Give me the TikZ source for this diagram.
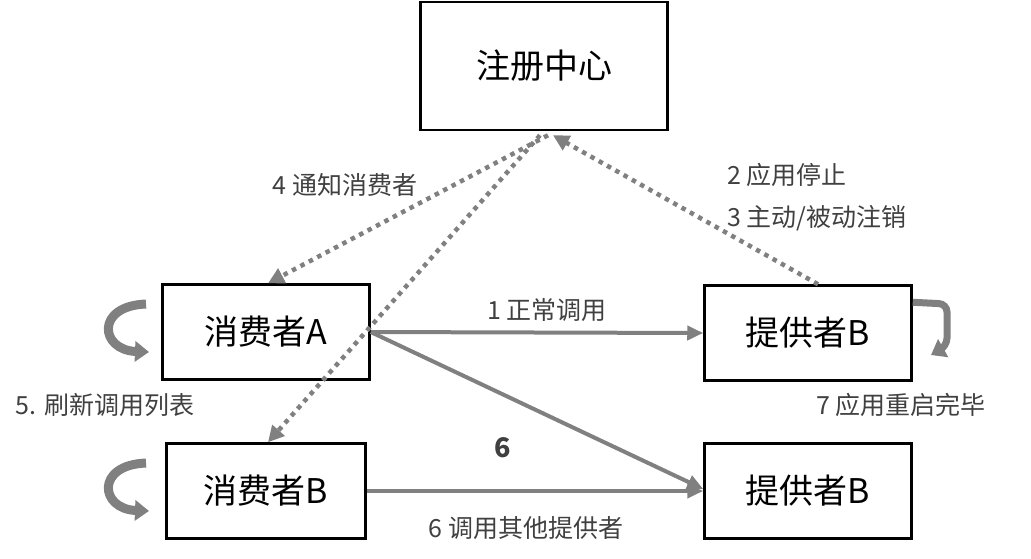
\documentclass[tikz,border=0pt]{standalone}
\usepackage{fontspec}
\setmainfont{Noto Sans CJK SC}
\usetikzlibrary{arrows.meta,calc}
\definecolor{linegray}{HTML}{808080}
\definecolor{textgray}{HTML}{404040}

\begin{document}
\begin{tikzpicture}[x=1pt,y=-1pt,
    box/.style={draw, line width=2.5pt, minimum width=207pt, minimum height=95pt, inner sep=0pt, font=\fontsize{34}{40}\selectfont},
    lbl/.style={text=textgray, inner sep=0pt, font=\fontsize{25}{30}\selectfont},
    call/.style={draw=linegray, line width=4pt, -{Triangle[length=16pt,width=14pt]}},
    notify/.style={draw=linegray, line width=4.5pt, dash pattern=on 4.5pt off 5pt, -{Triangle[length=16pt,width=16pt]}},
    loop/.style={draw=linegray, line width=9pt, -{Triangle[length=14pt,width=20pt]}}]
    \useasboundingbox (0,0) rectangle (1031,558);

    \node[box, minimum width=247pt, minimum height=128pt] (reg) at (544,66) {注册中心};
    \node[box] (consA) at (266,332) {消费者A};
    \node[box] (provB) at (808,333) {提供者B};
    \node[box, minimum width=199pt] (consB) at (266,491) {消费者B};
    \node[box] (provBb) at (808,491) {提供者B};

    % registry notifications
    \draw[notify] ($(reg.south)+(4,4)$) -- ($(consA.north)+(2,0)$);
    \draw[notify] ($(reg.south)+(-4,4)$) -- ($(consB.north)+(2,0)$);
    \draw[notify] ($(provB.north)+(10,0)$) -- ($(reg.south)+(9,4)$);

    % calls
    \draw[call] (consA.east) -- (provB.west);
    \draw[call] (consA.east) -- ($(provBb.west)+(0,-2)$);
    \draw[call] (consB.east) -- (provBb.west);

    % refresh and restart
    \draw[loop] (146,304) .. controls (95,306) and (100,350) .. (149,352);
    \draw[loop] (146,463) .. controls (95,465) and (100,509) .. (149,511);
    \draw[loop, line width=7pt, rounded corners=8pt] ($(provB.north east)+(0,18)$) -- (947,304) -- (947,346) -- (931,355);

    \node[lbl] (l4) at (345,185) {4 通知消费者};
    \node[lbl, anchor=west] (l2) at (727,175) {2 应用停止};
    \node[lbl, anchor=west] (l3) at (727,218) {3 主动/被动注销};
    \node[lbl] (l1) at (547,310) {1 正常调用};
    \node[lbl] (l5) at (105,405) {5. 刷新调用列表};
    \node[lbl] (l7) at (901,405) {7 应用重启完毕};
    \node[lbl, font=\fontsize{27}{32}\selectfont\bfseries] (l6) at (503,448) {6};
    \node[lbl] (l6b) at (526,528) {6 调用其他提供者};
\end{tikzpicture}
\end{document}
